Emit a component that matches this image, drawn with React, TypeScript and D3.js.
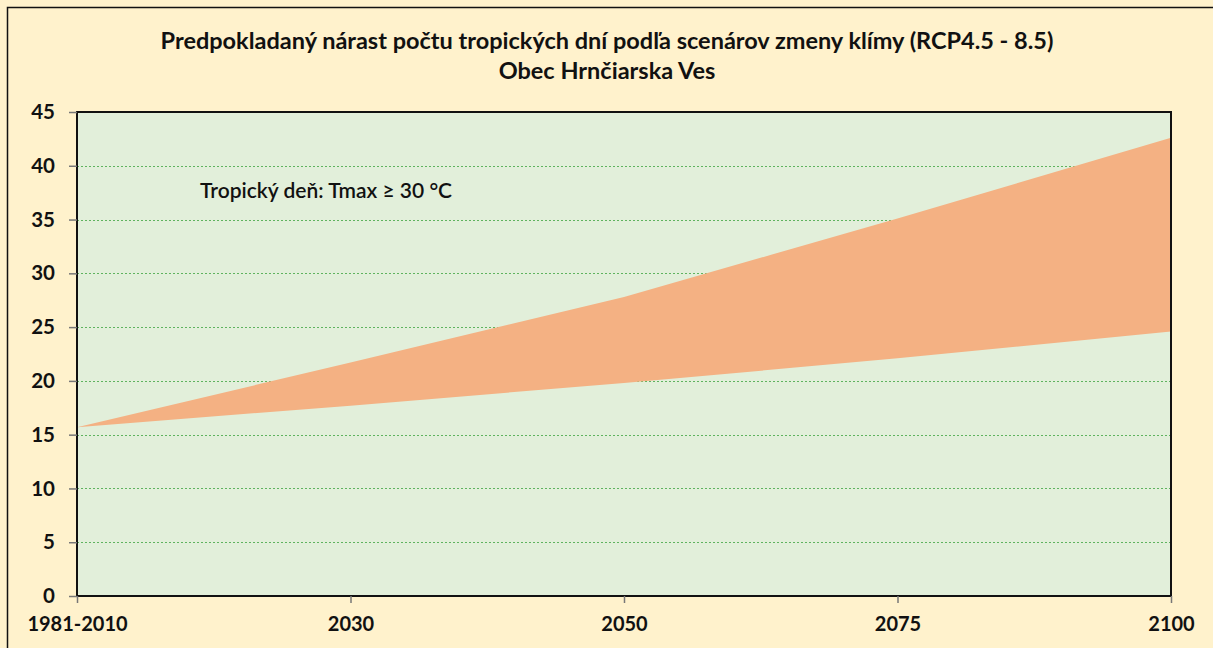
import * as d3 from "d3";
import { useEffect, useRef } from "react";

const periods = ["1981-2010", "2030", "2050", "2075", "2100"];
// RCP4.5 (lower edge) and RCP8.5 (upper edge), tropical days per year
const rcp45 = [15.7, 17.7, 19.8, 22.1, 24.6];
const rcp85 = [15.7, 21.7, 27.8, 35.1, 42.6];
const yTicks = [0, 5, 10, 15, 20, 25, 30, 35, 40, 45];

const titleLines = [
  "Predpokladaný nárast počtu tropických dní podľa scenárov zmeny klímy (RCP4.5 - 8.5)",
  "Obec Hrnčiarska Ves",
];
const note = "Tropický deň: Tmax ≥ 30 °C";

const FONT = "Lato, 'Open Sans', sans-serif";

export default function App() {
  const ref = useRef<SVGSVGElement>(null);

  const width = 1213;
  const height = 648;
  const margin = { top: 112, right: 42, bottom: 52, left: 77 };

  useEffect(() => {
    const svg = d3.select(ref.current);
    svg.selectAll("*").remove();

    const x = d3
      .scalePoint<string>()
      .domain(periods)
      .range([margin.left, width - margin.right]);
    const y = d3
      .scaleLinear()
      .domain([0, 45])
      .range([height - margin.bottom, margin.top]);

    // outer frame (only left and top edges are in view)
    svg.append("rect")
      .attr("x", 0).attr("y", 0).attr("width", width).attr("height", height)
      .attr("fill", "#fff2cc");
    svg.append("path")
      .attr("d", `M7.5,${height}V7.5H${width}`)
      .attr("fill", "none").attr("stroke", "#111").attr("stroke-width", 1.5);

    // title
    svg.append("g")
      .selectAll("text")
      .data(titleLines)
      .join("text")
      .attr("x", 607)
      .attr("y", (d, i) => 49 + i * 30)
      .attr("text-anchor", "middle")
      .attr("font-family", FONT)
      .attr("font-weight", "bold")
      .attr("font-size", 23.5)
      .attr("fill", "#111")
      .text(d => d);

    // plot background
    const [x0, x1] = x.range();
    svg.append("rect")
      .attr("x", x0).attr("y", y(45))
      .attr("width", x1 - x0).attr("height", y(0) - y(45))
      .attr("fill", "#e2efda");

    // gridlines
    svg.append("g")
      .selectAll("line")
      .data(yTicks.filter(t => t > 0 && t < 45))
      .join("line")
      .attr("x1", x0).attr("x2", x1)
      .attr("y1", d => Math.round(y(d)) + 0.5).attr("y2", d => Math.round(y(d)) + 0.5)
      .attr("stroke", "#5fb35f")
      .attr("stroke-width", 1)
      .attr("stroke-dasharray", "2,2");

    // band between scenarios
    const area = d3.area<number>()
      .x((d, i) => x(periods[i]) as number)
      .y0((d, i) => y(rcp45[i]))
      .y1(d => y(d));
    svg.append("path")
      .datum(rcp85)
      .attr("d", area)
      .attr("fill", "#f4b183");

    // plot border
    svg.append("rect")
      .attr("x", x0).attr("y", y(45))
      .attr("width", x1 - x0).attr("height", y(0) - y(45))
      .attr("fill", "none").attr("stroke", "#111").attr("stroke-width", 2);

    // y axis
    const yAxis = svg.append("g")
      .attr("transform", `translate(${x0},0)`)
      .call(d3.axisLeft(y).tickValues(yTicks).tickSize(8).tickPadding(14));
    yAxis.select(".domain").remove();
    yAxis.selectAll(".tick line").attr("stroke", "#777").attr("stroke-width", 1.5);
    yAxis.selectAll(".tick text")
      .attr("font-family", FONT).attr("font-weight", "bold")
      .attr("font-size", 20.5).attr("fill", "#111");

    // x axis
    const xAxis = svg.append("g")
      .attr("transform", `translate(0,${y(0)})`)
      .call(d3.axisBottom(x).tickSize(7).tickPadding(14));
    xAxis.select(".domain").remove();
    xAxis.selectAll(".tick line").attr("stroke", "#777").attr("stroke-width", 1.5);
    xAxis.selectAll(".tick text")
      .attr("font-family", FONT).attr("font-weight", "bold")
      .attr("font-size", 20).attr("fill", "#111");

    // annotation
    svg.append("text")
      .attr("x", 200).attr("y", 198)
      .attr("font-family", FONT)
      .attr("font-weight", 600)
      .attr("font-size", 21)
      .attr("fill", "#111")
      .text(note);
  }, []);

  return (
    <div style={{ position: "absolute", left: 0, top: 0 }}>
      <svg ref={ref} width={width} height={height} style={{ display: "block" }} />
    </div>
  );
}
